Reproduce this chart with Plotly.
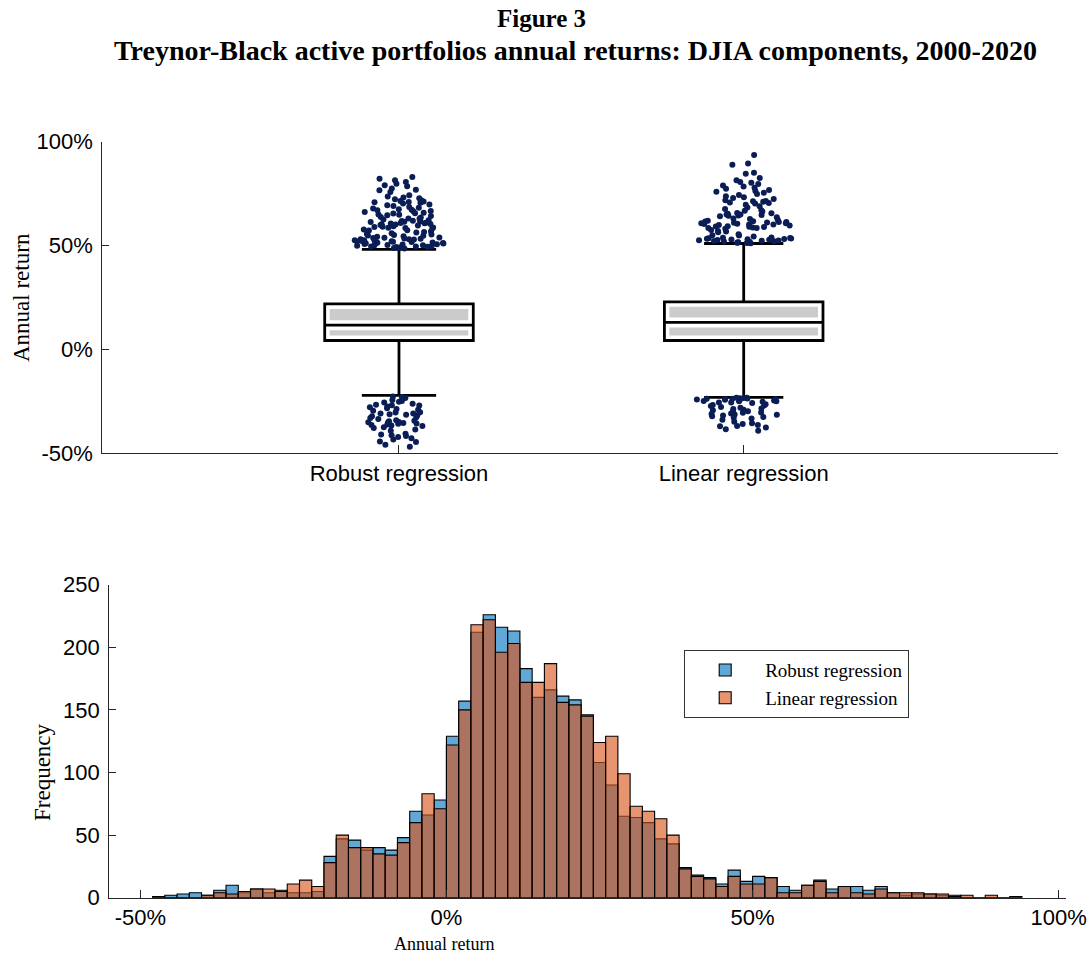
import plotly.graph_objects as go

# ---------------- data ----------------
categories = ["Robust regression", "Linear regression"]

# box statistics (annual return, %)
q1_vals = [4.3, 4.3]
median_vals = [11.7, 13.0]
q3_vals = [21.9, 22.9]
lower_fence = [-22.1, -23.1]
upper_fence = [48.2, 51.0]

robust_outliers = [
    48.6, 48.8, 48.9, 49.1, 49.3, 49.4, 49.5, 49.6, 49.7, 49.9,
    50.1, 50.2, 50.3, 50.5, 50.6, 50.8, 51.0, 51.1, 51.2, 51.4, 51.5, 51.7, 51.8, 51.9,
    52.1, 52.2, 52.4, 52.5, 52.6, 52.8, 52.9, 53.0, 53.1, 53.3, 53.4, 53.6, 53.8, 53.9,
    54.2, 54.5, 54.7, 54.9, 55.1, 55.3, 55.6, 55.9,
    56.3, 56.5, 56.8, 57.2, 57.4, 57.7,
    58.2, 58.4, 58.6, 58.7, 58.9, 59.1, 59.3, 59.6, 59.9,
    60.1, 60.3, 60.4, 60.6, 60.7, 60.9, 61.0, 61.3, 61.5, 61.6, 61.8, 61.9,
    62.2, 62.6, 62.9, 63.0, 63.5, 63.8,
    64.2, 64.6, 64.8, 65.0, 65.4, 65.6, 65.8,
    66.2, 66.5, 66.7, 67.0, 67.3, 67.5, 67.8,
    68.2, 68.6, 69.0, 69.4, 69.8,
    70.2, 70.6, 70.8, 71.0, 71.2, 71.5, 71.8,
    72.3, 72.8, 73.1, 73.6,
    74.2, 75.8, 76.6, 76.9, 77.5, 78.5, 79.0, 79.8, 80.6, 81.4, 82.2, 83.0,
    -46.8, -45.9, -44.3, -44.6, -42.8, -43.4, -42.2, -41.3, -40.9, -40.6, -41.7,
    -39.2, -38.6, -37.5, -36.9, -36.4, -37.8, -36.1, -35.8, -35.4, -35.0, -34.6,
    -34.9, -35.6, -34.3, -35.2, -36.6, -34.1, -33.5, -32.6, -33.0, -32.2, -31.7,
    -31.2, -30.8, -30.4, -30.9, -31.5, -30.2, -29.5, -28.7, -29.0, -28.3, -27.5,
    -27.0, -26.6, -26.2, -27.8, -26.9, -25.6, -24.8, -25.2, -24.3, -23.4, -22.7, -22.9,
]

linear_outliers = [
    51.1, 51.3, 51.4, 51.6, 51.8, 51.9, 51.2, 51.5,
    52.1, 52.3, 52.4, 52.6, 52.8, 52.9, 53.1, 53.2, 53.4, 53.5, 53.7, 53.8, 52.2, 52.7, 53.3, 53.9,
    54.4, 55.0, 55.5, 54.8,
    56.4, 57.0, 57.5, 56.8,
    58.1, 58.4, 58.7, 59.0, 59.3, 59.6, 59.9, 58.5, 59.2, 58.9,
    60.2, 60.5, 60.8, 61.1, 61.4, 61.7, 61.9, 60.4, 61.0, 61.6, 60.7, 61.3, 60.1,
    62.4, 63.0, 63.6, 62.8,
    64.1, 64.5, 64.9, 65.3, 65.7, 64.3, 65.0, 65.5, 64.7,
    66.4, 67.0, 67.6, 66.8,
    68.3, 68.9, 69.6,
    70.2, 70.7, 71.1, 71.5, 71.8, 70.5, 71.3,
    72.4, 72.9, 73.3, 73.8,
    74.3, 74.8, 75.4, 75.9,
    76.3, 76.8, 77.3, 77.8,
    78.4, 78.9, 79.6,
    80.2, 80.6, 81.4,
    82.5, 84.6, 85.1, 88.9, 89.5, 93.6,
    -39.1, -38.4, -37.6, -37.0, -36.4, -36.8, -35.5, -34.8, -35.9,
    -33.8, -33.3, -32.9, -32.5, -32.2,
    -31.8, -31.5, -31.1, -30.8, -30.5, -30.3, -31.3,
    -29.7, -29.3, -29.0, -28.7, -28.4, -28.1, -29.5,
    -27.7, -27.2, -26.8, -26.4, -27.0,
    -25.8, -25.5, -25.2, -25.0, -24.8, -24.6, -24.4, -24.2, -25.6, -24.9, -24.1,
    -23.9, -23.8, -23.7, -23.6, -23.5, -23.4, -23.3, -23.2, -23.85,
]

# histogram (2%-wide bins, left edges in %)
bin_left = list(range(-48, 94, 2))
robust_counts = [
    1, 2, 3, 4, 2, 6, 10, 4, 7, 4, 6, 4, 4, 5,
    33, 47, 46, 38, 40, 38, 48, 69, 66, 78,
    129, 157, 212, 226, 216, 213, 183, 160, 166, 161, 158, 146,
    108, 90, 65, 64, 60, 47, 43, 24, 18, 16, 11, 22,
    13, 17, 16, 9, 6, 10, 14, 7, 9, 9, 6, 9, 4, 2, 3, 3, 2, 2,
    0, 0, 0, 0, 0,
]
linear_counts = [
    0, 0, 0, 0, 2, 4, 3, 5, 7, 7, 5, 11, 14, 9,
    28, 50, 40, 40, 35, 34, 44, 60, 83, 71,
    122, 150, 218, 222, 196, 203, 172, 172, 187, 156, 154, 145,
    124, 129, 99, 73, 69, 63, 50, 23, 17, 15, 9, 17,
    11, 11, 16, 4, 4, 10, 13, 4, 9, 4, 3, 7, 4, 4, 4, 3, 3, 1,
    2, 0, 2, 0, 1,
]
bin_width = 2

box_ticks = [-50, 0, 50, 100]
box_ticktext = ["-50%", "0%", "50%", "100%"]
hist_xticks = [-50, 0, 50, 100]
hist_xticktext = ["-50%", "0%", "50%", "100%"]
hist_yticks = [0, 50, 100, 150, 200, 250]

# ---------------- styling ----------------
W, H = 1091, 961
SANS = "Liberation Sans, Arial, sans-serif"
SERIF = "Liberation Serif, Times New Roman, serif"
AX = "#262626"
box_widths = [0.431, 0.46]
outliers = [robust_outliers, linear_outliers]

fig = go.Figure()

for i, cat in enumerate(categories):
    # inner shaded band (white border, grey core)
    fig.add_trace(go.Box(
        x=[cat], q1=[q1_vals[i]], median=[median_vals[i]], q3=[q3_vals[i]],
        lowerfence=[q1_vals[i]], upperfence=[q3_vals[i]],
        width=box_widths[i], fillcolor="#cbcbcb",
        line=dict(color="white", width=10), boxpoints=False,
        showlegend=False, hoverinfo="skip", xaxis="x", yaxis="y",
    ))
    # main box with outliers
    fig.add_trace(go.Box(
        x=[cat], y=[outliers[i]], q1=[q1_vals[i]], median=[median_vals[i]], q3=[q3_vals[i]],
        lowerfence=[lower_fence[i]], upperfence=[upper_fence[i]],
        width=box_widths[i], whiskerwidth=0.5, fillcolor="rgba(0,0,0,0)",
        line=dict(color="black", width=2.8),
        boxpoints="all", jitter=0.6, pointpos=0,
        marker=dict(color="#0b1d55", size=6, line=dict(width=0)),
        showlegend=False, xaxis="x", yaxis="y",
    ))

centers = [b + bin_width / 2 for b in bin_left]
fig.add_trace(go.Bar(
    x=centers, y=robust_counts, width=bin_width, name="Robust regression",
    marker=dict(color="rgba(0,114,189,0.62)", line=dict(color="black", width=1.1)),
    xaxis="x2", yaxis="y2",
))
fig.add_trace(go.Bar(
    x=centers, y=linear_counts, width=bin_width, name="Linear regression",
    marker=dict(color="rgba(217,83,25,0.62)", line=dict(color="black", width=1.1)),
    xaxis="x2", yaxis="y2",
))

def px_x(p):
    return p / W

def px_y(p):
    return 1 - p / H

axis_common = dict(showline=True, linecolor=AX, linewidth=1.3, ticks="inside",
                   tickcolor=AX, tickwidth=1.2, showgrid=False, zeroline=False,
                   mirror=False, automargin=False,
                   tickfont=dict(family=SANS, size=22, color="black"))

fig.update_layout(
    template="none",
    font=dict(family=SANS, color="black"),
    width=W, height=H, autosize=False,
    margin=dict(l=0, r=0, t=0, b=0, pad=0, autoexpand=False),
    paper_bgcolor="white", plot_bgcolor="white",
    barmode="overlay", boxmode="overlay",
    xaxis=dict(domain=[px_x(102.3), px_x(1057.7)], anchor="y", type="category",
               categoryorder="array", categoryarray=categories,
               range=[-0.8607, 1.9109], ticklen=8, **axis_common),
    yaxis=dict(domain=[px_y(453.3), px_y(141.7)], anchor="x", range=[-50, 100],
               tickvals=box_ticks, ticktext=box_ticktext, ticklen=7,
               ticklabelstandoff=4, **axis_common),
    xaxis2=dict(domain=[px_x(109.3), px_x(1066)], anchor="y2",
                range=[-55.063, 101.19], tickvals=hist_xticks, ticktext=hist_xticktext,
                ticklen=8, **axis_common),
    yaxis2=dict(domain=[px_y(897.7), px_y(584.7)], anchor="x2", range=[0, 250],
                tickvals=hist_yticks, ticklen=7, ticklabelstandoff=4, **axis_common),
    legend=dict(x=px_x(684), y=px_y(650), xanchor="left", yanchor="top",
                bgcolor="white", bordercolor="#333333", borderwidth=1.2,
                font=dict(family=SERIF, size=19, color="black"),
                traceorder="normal", itemwidth=70, tracegroupgap=0),
    annotations=[
        dict(text="<b>Figure 3</b>", x=px_x(541), y=px_y(19), xref="paper", yref="paper",
             showarrow=False, font=dict(family=SERIF, size=25, color="black"),
             xanchor="center", yanchor="middle"),
        dict(text="<b>Treynor-Black active portfolios annual returns: DJIA components, 2000-2020</b>",
             x=px_x(575), y=px_y(51), xref="paper", yref="paper",
             showarrow=False, font=dict(family=SERIF, size=28, color="black"),
             xanchor="center", yanchor="middle"),
        dict(text="Annual return", x=px_x(21), y=px_y(298), xref="paper", yref="paper",
             showarrow=False, textangle=-90, font=dict(family=SERIF, size=23, color="black"),
             xanchor="center", yanchor="middle"),
        dict(text="Frequency", x=px_x(42), y=px_y(772), xref="paper", yref="paper",
             showarrow=False, textangle=-90, font=dict(family=SERIF, size=23, color="black"),
             xanchor="center", yanchor="middle"),
        dict(text="Annual return", x=px_x(444), y=px_y(944), xref="paper", yref="paper",
             showarrow=False, font=dict(family=SERIF, size=18, color="black"),
             xanchor="center", yanchor="middle"),
    ],
)

# remove the default page margin so the figure fills the window exactly
fig.write_html("out.html",
               config={"displayModeBar": False},
               post_script="document.body.style.margin='0';document.body.style.overflow='hidden';")
